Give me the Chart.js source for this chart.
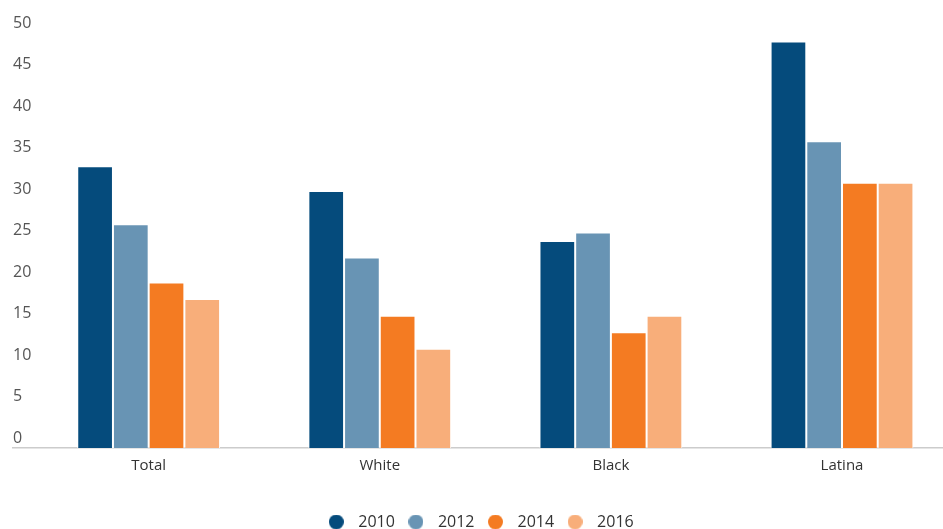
<!DOCTYPE html>
<html>
<head>
<meta charset="utf-8">
<title>Grouped columns 2010–2016</title>
<script src="https://cdn.jsdelivr.net/npm/chart.js@4/dist/chart.umd.min.js"></script>
<style>
  html, body { margin: 0; padding: 0; background: #ffffff; overflow: hidden; }
  #wrap { position: relative; width: 943px; height: 529px; }
</style>
</head>
<body>
<div id="wrap"><canvas id="chart" width="943" height="529"></canvas></div>
<script>
// Groups along the horizontal axis
const categories = ['Total', 'White', 'Black', 'Latina'];

// One series per survey year
const years = ['2010', '2012', '2014', '2016'];
const values2010 = [33, 30, 24, 48];
const values2012 = [26, 22, 25, 36];
const values2014 = [19, 15, 13, 31];
const values2016 = [17, 11, 15, 31];

// Value axis tick labels
const yTicks = [0, 5, 10, 15, 20, 25, 30, 35, 40, 45, 50];

const seriesValues = [values2010, values2012, values2014, values2016];
const seriesColors = ['#054b7c', '#6894b4', '#f47b22', '#f8ae7a'];

// Round legend markers drawn onto small canvases
function makeDot(color) {
  const c = document.createElement('canvas');
  c.width = 15; c.height = 15;
  const g = c.getContext('2d');
  g.fillStyle = color;
  g.beginPath();
  g.arc(7.5, 7.5, 7.5, 0, Math.PI * 2);
  g.fill();
  return c;
}

// The baseline sits a little below the zero tick
const AXIS_MIN = -0.94;

const datasets = years.map((y, i) => ({
  label: y,
  data: seriesValues[i].map((v, k) => ({ x: k, y: v })),
  backgroundColor: seriesColors[i],
  borderColor: '#ffffff',
  borderWidth: 1,
  borderSkipped: 'start',
  base: AXIS_MIN,
  barPercentage: 1,
  categoryPercentage: 0.618,
  pointStyle: makeDot(seriesColors[i])
}));

const font = "'Open Sans', 'Noto Sans', sans-serif";

new Chart(document.getElementById('chart'), {
  type: 'bar',
  data: { datasets },
  options: {
    responsive: false,
    animation: false,
    layout: { padding: { left: 13, right: 0, top: 25, bottom: -11 } },
    plugins: {
      tooltip: { enabled: false },
      legend: {
        position: 'bottom',
        labels: {
          usePointStyle: true,
          pointStyleWidth: 28,
          boxHeight: 15,
          padding: 7,
          color: '#333333',
          font: { family: font, size: 16 }
        }
      }
    },
    scales: {
      x: {
        type: 'linear',
        offset: false,
        min: -0.587,
        max: 3.437,
        grid: { display: false, drawTicks: false, offset: false },
        border: { display: true, color: '#cccccc', width: 1.5 },
        afterBuildTicks: (axis) => {
          axis.ticks = categories.map((_, i) => ({ value: i }));
        },
        afterFit: (axis) => { axis.height += 23; },
        ticks: {
          padding: 9,
          color: '#333333',
          font: { family: font, size: 15 },
          callback: (v) => categories[v]
        }
      },
      y: {
        min: AXIS_MIN,
        max: 50,
        grid: { display: false, drawTicks: false },
        border: { display: false },
        afterBuildTicks: (axis) => {
          axis.ticks = yTicks.map(v => ({ value: v }));
        },
        ticks: {
          mirror: true,
          padding: 0,
          labelOffset: -2,
          color: '#555555',
          font: { family: font, size: 16 }
        }
      }
    }
  }
});
</script>
</body>
</html>
